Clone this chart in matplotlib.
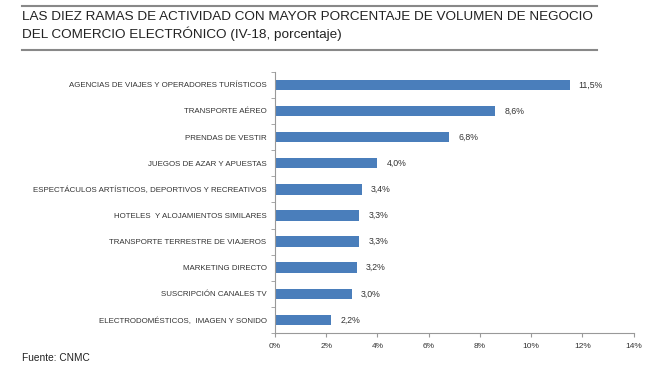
import matplotlib as mpl
import matplotlib.pyplot as plt
from matplotlib.lines import Line2D
from matplotlib.ticker import FuncFormatter

mpl.rc('font', family=['Liberation Sans', 'DejaVu Sans'])

categorias = [
    'AGENCIAS DE VIAJES Y OPERADORES TURÍSTICOS',
    'TRANSPORTE AÉREO',
    'PRENDAS DE VESTIR',
    'JUEGOS DE AZAR Y APUESTAS',
    'ESPECTÁCULOS ARTÍSTICOS, DEPORTIVOS Y RECREATIVOS',
    'HOTELES  Y ALOJAMIENTOS SIMILARES',
    'TRANSPORTE TERRESTRE DE VIAJEROS',
    'MARKETING DIRECTO',
    'SUSCRIPCIÓN CANALES TV',
    'ELECTRODOMÉSTICOS,  IMAGEN Y SONIDO',
]
porcentajes = [11.5, 8.6, 6.8, 4.0, 3.4, 3.3, 3.3, 3.2, 3.0, 2.2]
xticks = [0, 2, 4, 6, 8, 10, 12, 14]

bar_color = '#4a7ebb'
axis_color = '#999999'
text_color = '#333333'

fig = plt.figure(figsize=(6.72, 3.78), dpi=100)
ax = fig.add_axes([0.409, 0.119, 0.534, 0.691])

pos = list(range(len(categorias)))
ax.barh(pos, porcentajes, height=0.4, color=bar_color)
for p, v in zip(pos, porcentajes):
    ax.text(v + 0.35, p, ('%.1f%%' % v).replace('.', ','), va='center',
            ha='left', fontsize=6.3, color=text_color)

ax.set_ylim(len(categorias) - 0.5, -0.5)
ax.set_xlim(0, 14)
ax.set_xticks(xticks)
ax.xaxis.set_major_formatter(FuncFormatter(lambda x, _: '%d%%' % x))
ax.set_yticks(pos)
ax.set_yticklabels(categorias, fontsize=5.7, color=text_color)
ax.set_yticks([p + 0.5 for p in [-1] + pos], minor=True)
ax.tick_params(axis='y', which='major', length=0, pad=6)
ax.tick_params(axis='y', which='minor', length=3, color=axis_color, direction='out')
ax.tick_params(axis='x', length=3, color=axis_color, labelsize=6,
               labelcolor=text_color, pad=4)

for side in ['top', 'right']:
    ax.spines[side].set_visible(False)
for side in ['left', 'bottom']:
    ax.spines[side].set_color(axis_color)

# cabecera con lineas grises
fig.add_artist(Line2D([22 / 672, 597 / 672], [1 - 6 / 378, 1 - 6 / 378],
                      color='#888888', lw=1.5))
fig.add_artist(Line2D([22 / 672, 597 / 672], [1 - 50 / 378, 1 - 50 / 378],
                      color='#888888', lw=1.5))
fig.text(22 / 672, 1 - 17 / 378,
         'LAS DIEZ RAMAS DE ACTIVIDAD CON MAYOR PORCENTAJE DE VOLUMEN DE NEGOCIO',
         fontsize=9.7, color='#222222', va='center')
fig.text(22 / 672, 1 - 34 / 378,
         'DEL COMERCIO ELECTRÓNICO (IV-18, porcentaje)',
         fontsize=9.7, color='#222222', va='center')
fig.text(22 / 672, 1 - 358 / 378, 'Fuente: CNMC', fontsize=7.3,
         color='#222222', va='center')

plt.savefig('out.png', dpi=100, facecolor='w')
